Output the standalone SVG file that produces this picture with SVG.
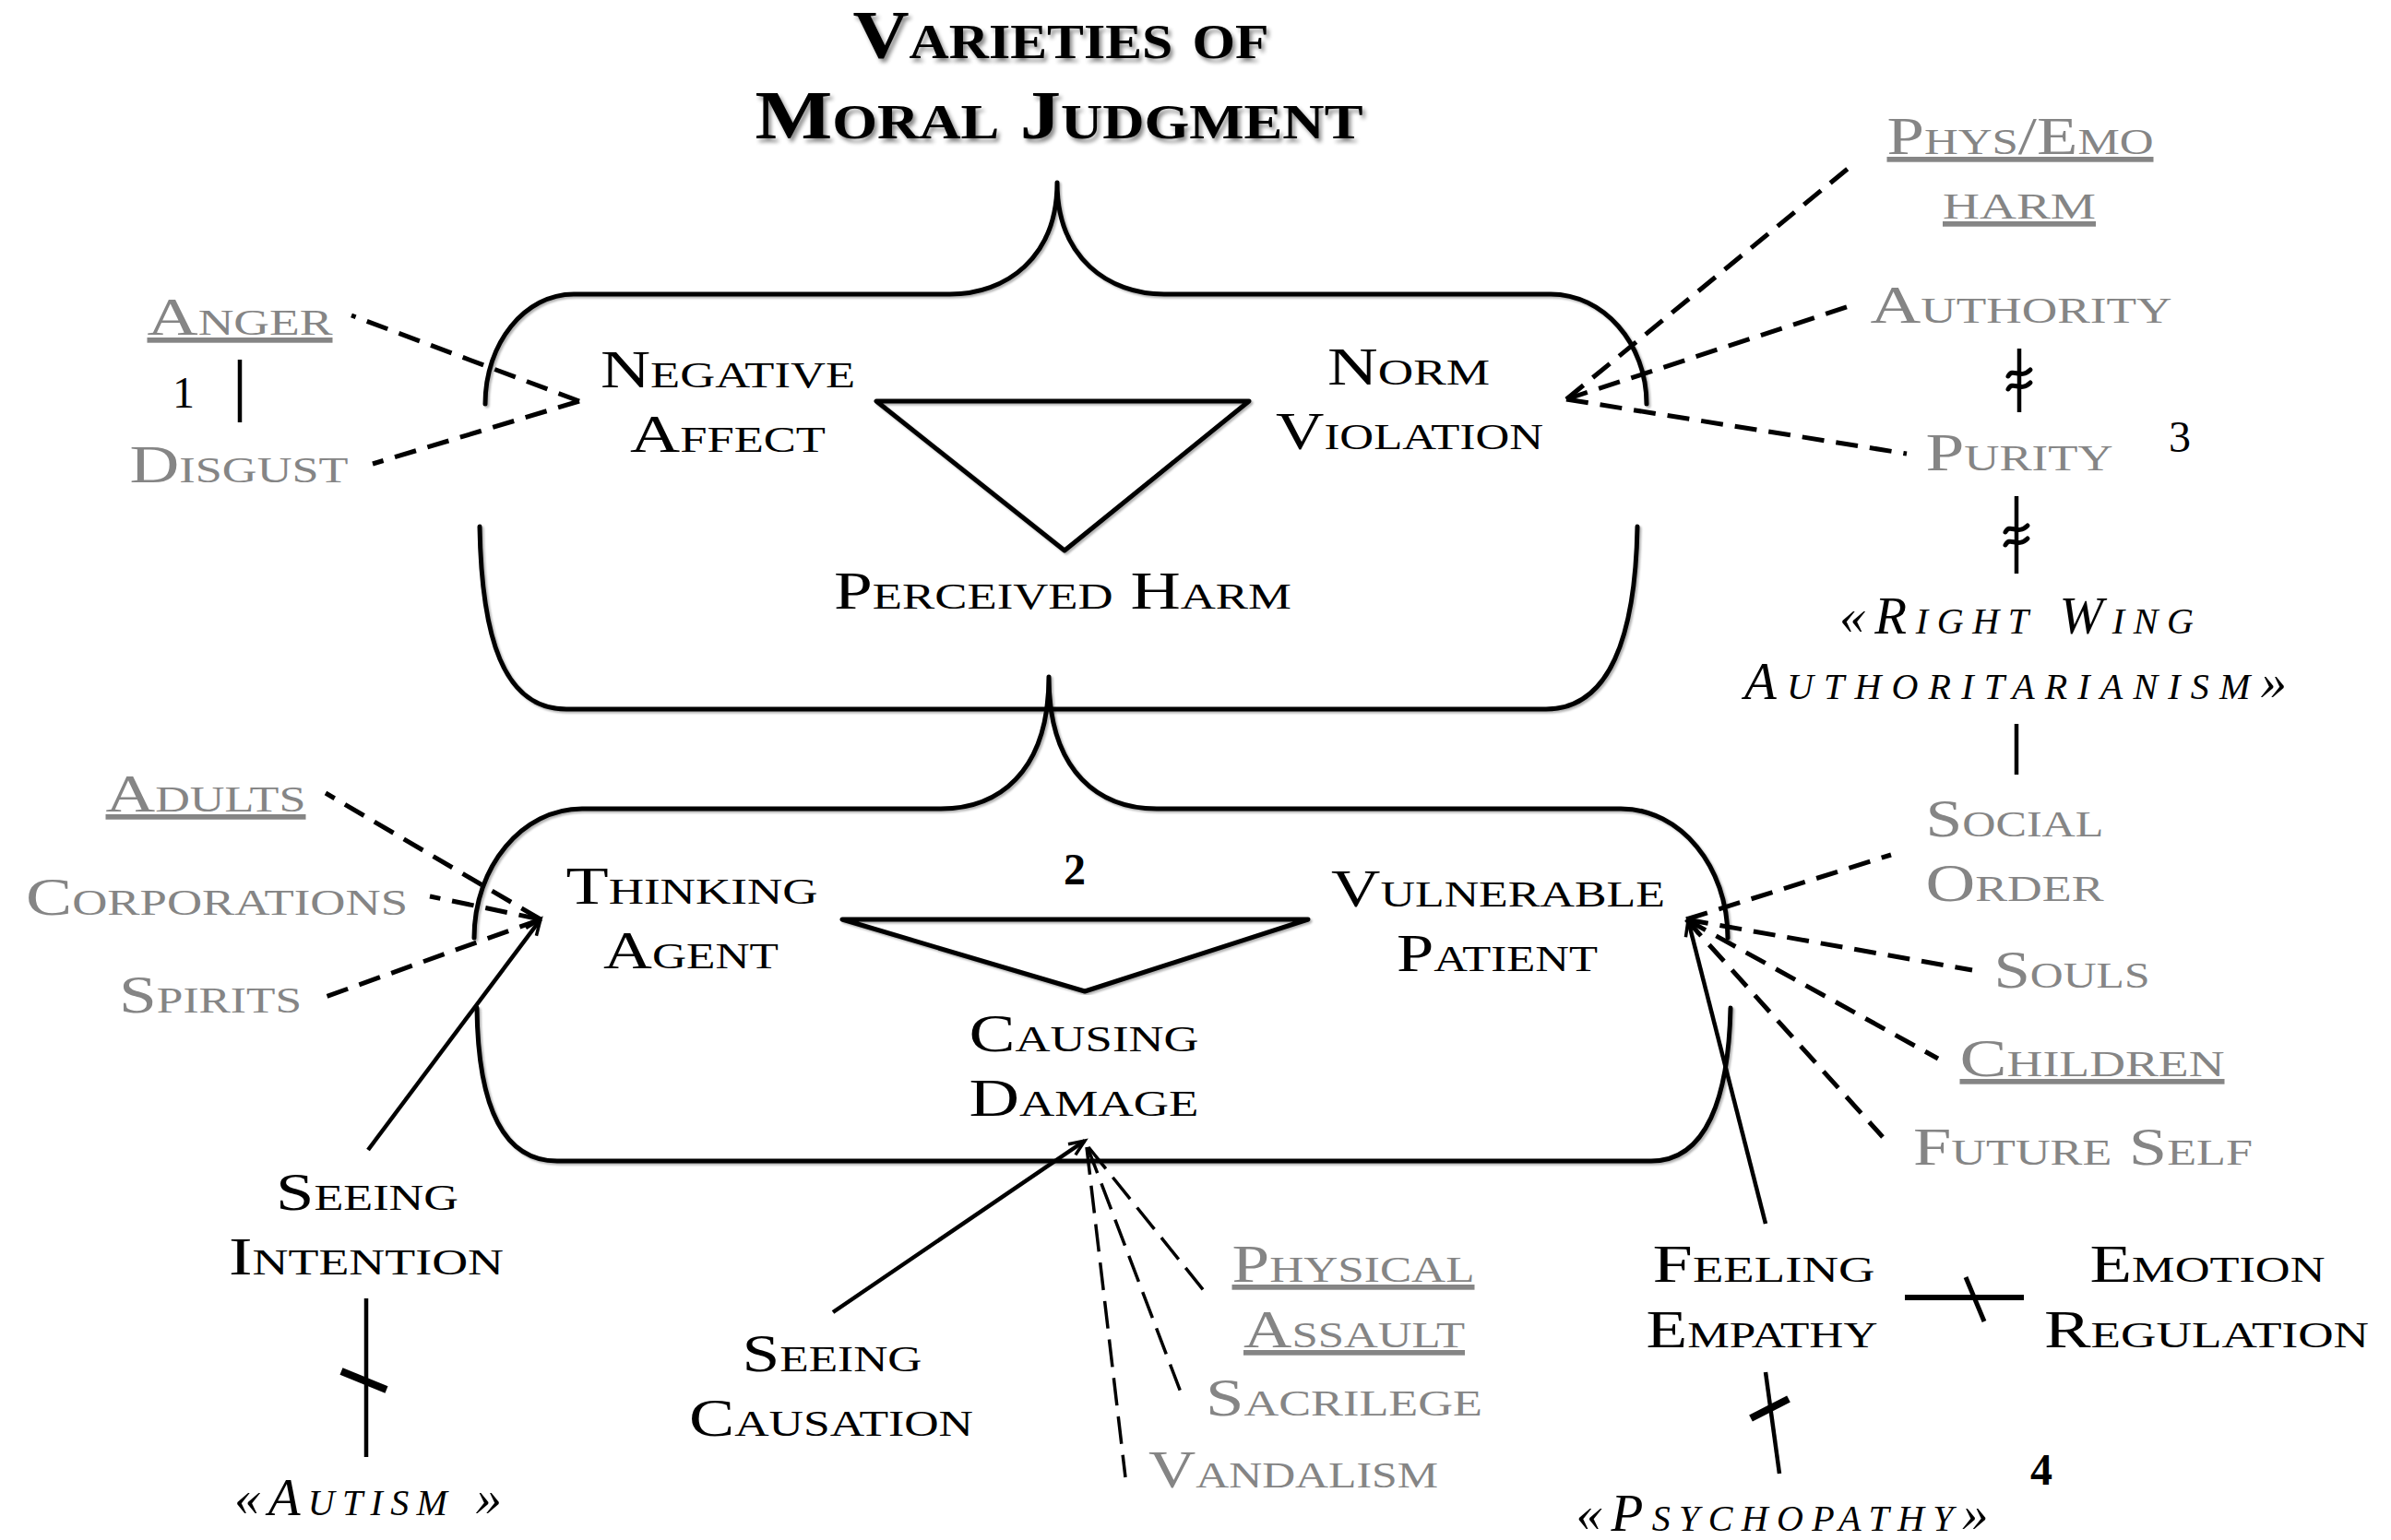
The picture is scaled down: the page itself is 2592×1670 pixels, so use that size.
<svg xmlns="http://www.w3.org/2000/svg" width="2592" height="1670" viewBox="0 0 2592 1670">
<style>
  text { font-family: "Liberation Serif", "Times New Roman", serif; font-variant: small-caps; text-anchor: middle; fill: #000; font-size: 57px; }
  .title { font-size: 75px; font-weight: bold; filter: url(#shadow); }
  .g { fill: #858585; }
  .u { text-decoration: underline; }
  .i { font-style: italic; }
  .num { font-size: 48px; font-variant: normal; }
  .b { font-weight: bold; }
  .box { fill: none; stroke: #000; stroke-width: 5; stroke-linecap: round; stroke-linejoin: round; filter: url(#lshadow); }
  .dash { fill: none; stroke: #000; stroke-width: 5; stroke-dasharray: 24 13; }
  .dash2 { fill: none; stroke: #000; stroke-width: 3.5; stroke-dasharray: 30 12; }
  .solid { fill: none; stroke: #000; stroke-width: 4.5; }
  .tick { fill: none; stroke: #000; stroke-width: 8; }
  .wave { fill: none; stroke: #000; stroke-width: 5; stroke-linecap: round; }
</style>
<defs>
  <filter id="shadow" x="-10%" y="-20%" width="120%" height="150%">
    <feDropShadow dx="3" dy="4" stdDeviation="2" flood-color="#000" flood-opacity="0.45"/>
  </filter>
  <filter id="lshadow" x="-5%" y="-5%" width="110%" height="110%">
    <feDropShadow dx="2" dy="2" stdDeviation="1" flood-color="#000" flood-opacity="0.3"/>
  </filter>
  <marker id="arr" markerUnits="userSpaceOnUse" markerWidth="26" markerHeight="20" refX="19" refY="9" orient="auto">
    <path d="M2,2 L19,9 L2,16" fill="none" stroke="#000" stroke-width="3.5"/>
  </marker>
</defs>

<g id="title">
  <text class="title" x="1150" y="63" textLength="451" lengthAdjust="spacingAndGlyphs">Varieties of</text>
  <text class="title" x="1148" y="150" textLength="659" lengthAdjust="spacingAndGlyphs">Moral Judgment</text>
</g>

<g id="shapes">
  <path class="box" d="M526,438 C526,372 569,319 622,319 L1030,319 C1090,319 1146,280 1146,198 C1146,280 1202,319 1262,319 L1681,319 C1738,319 1785,372 1785,438"/>
  <path class="box" d="M520,571 C522,690 545,769 614,769 L1676,769 C1745,769 1773,690 1775,571"/>
  <path class="box" d="M514,1017 C514,940 566,877 631,877 L1020,877 C1080,877 1137,840 1137,734 C1137,840 1194,877 1254,877 L1757,877 C1822,877 1873,940 1873,1017"/>
  <path class="box" d="M517,1093 C518,1190 540,1259 604,1259 L1790,1259 C1850,1259 1874,1190 1876,1093"/>
  <path class="box" d="M950,435 L1354,435 L1154,597 Z"/>
  <path class="box" d="M913,997 L1418,997 L1176,1075 Z"/>
</g>

<g id="connectors">
  <path class="dash" d="M628,435 L381,342"/>
  <path class="dash" d="M628,435 L404,503"/>
  <path class="solid" d="M260,390 L260,458"/>
  <path class="dash" d="M1698,433 L2003,183"/>
  <path class="dash" d="M1698,433 L2005,332"/>
  <path class="dash" d="M1698,433 L2067,492"/>
  <path class="solid" d="M2189,378 L2189,447"/>
  <path class="wave" d="M2177,408 C2182,398 2190,412 2201,401"/>
  <path class="wave" d="M2177,422 C2182,412 2190,426 2201,415"/>
  <path class="solid" d="M2186,538 L2186,622"/>
  <path class="wave" d="M2174,577 C2179,567 2187,581 2198,570"/>
  <path class="wave" d="M2174,591 C2179,581 2187,595 2198,584"/>
  <path class="solid" d="M2186,785 L2186,840"/>
  <path class="dash" d="M586,997 L353,860"/>
  <path class="dash" d="M586,997 L466,972"/>
  <path class="dash" d="M586,997 L350,1082"/>
  <path class="solid" d="M399,1247 L586,997" marker-end="url(#arr)"/>
  <path class="dash" d="M1828,997 L2050,927"/>
  <path class="dash" d="M1828,997 L2138,1052"/>
  <path class="dash" d="M1828,997 L2101,1148"/>
  <path class="dash" d="M1828,997 L2041,1233"/>
  <path class="solid" d="M1914,1327 L1830,998" marker-end="url(#arr)"/>
  <path class="solid" d="M903,1423 L1176,1237" marker-end="url(#arr)"/>
  <path class="dash2" d="M1180,1244 L1311,1407"/>
  <path class="dash2" d="M1179,1244 L1282,1515"/>
  <path class="dash2" d="M1178,1244 L1220,1602"/>
  <path class="solid" d="M2065,1407 L2194,1407" style="stroke-width:6"/>
  <path class="solid" d="M2131,1385 L2151,1433" style="stroke-width:5"/>
  <path class="solid" d="M1914,1488 L1929,1598"/>
  <path class="tick" d="M1898,1538 L1939,1517"/>
  <path class="solid" d="M397,1408 L397,1580"/>
  <path class="tick" d="M370,1487 L419,1507"/>
</g>

<g id="negative-affect"><text x="789" y="420" textLength="276" lengthAdjust="spacingAndGlyphs">Negative</text><text x="789" y="490" textLength="212" lengthAdjust="spacingAndGlyphs">Affect</text></g>
<g id="norm-violation"><text x="1527" y="417" textLength="176" lengthAdjust="spacingAndGlyphs">Norm</text><text x="1528" y="487" textLength="290" lengthAdjust="spacingAndGlyphs">Violation</text></g>
<g id="perceived-harm"><text x="1152" y="660" textLength="496" lengthAdjust="spacingAndGlyphs">Perceived Harm</text></g>
<g id="anger"><text class="g u" x="260" y="363" textLength="201" lengthAdjust="spacingAndGlyphs">Anger</text></g>
<g id="disgust"><text class="g" x="259" y="523" textLength="237" lengthAdjust="spacingAndGlyphs">Disgust</text></g>
<g id="label-1"><text class="num" x="199" y="442">1</text></g>
<g id="phys-emo-harm"><text class="g u" x="2190" y="167" textLength="289" lengthAdjust="spacingAndGlyphs">Phys/Emo</text><text class="g u" x="2189" y="237" textLength="166" lengthAdjust="spacingAndGlyphs">harm</text></g>
<g id="authority"><text class="g" x="2191" y="350" textLength="327" lengthAdjust="spacingAndGlyphs">Authority</text></g>
<g id="purity"><text class="g" x="2189" y="510" textLength="203" lengthAdjust="spacingAndGlyphs">Purity</text></g>
<g id="label-3"><text class="num" x="2363" y="490">3</text></g>
<g id="rwa"><text class="i" x="2186" y="687" textLength="384">«Right Wing</text><text class="i" x="2185" y="758" textLength="588">Authoritarianism»</text></g>
<g id="thinking-agent"><text x="750" y="980" textLength="273" lengthAdjust="spacingAndGlyphs">Thinking</text><text x="749" y="1050" textLength="190" lengthAdjust="spacingAndGlyphs">Agent</text></g>
<g id="vulnerable-patient"><text x="1624" y="983" textLength="362" lengthAdjust="spacingAndGlyphs">Vulnerable</text><text x="1623" y="1053" textLength="218" lengthAdjust="spacingAndGlyphs">Patient</text></g>
<g id="label-2"><text class="num b" x="1165" y="959">2</text></g>
<g id="causing-damage"><text x="1175" y="1140" textLength="249" lengthAdjust="spacingAndGlyphs">Causing</text><text x="1175" y="1210" textLength="249" lengthAdjust="spacingAndGlyphs">Damage</text></g>
<g id="adults"><text class="g u" x="223" y="880" textLength="217" lengthAdjust="spacingAndGlyphs">Adults</text></g>
<g id="corporations"><text class="g" x="235" y="992" textLength="414" lengthAdjust="spacingAndGlyphs">Corporations</text></g>
<g id="spirits"><text class="g" x="228" y="1098" textLength="198" lengthAdjust="spacingAndGlyphs">Spirits</text></g>
<g id="social-order"><text class="g" x="2184" y="907" textLength="193" lengthAdjust="spacingAndGlyphs">Social</text><text class="g" x="2184" y="977" textLength="193" lengthAdjust="spacingAndGlyphs">Order</text></g>
<g id="souls"><text class="g" x="2246" y="1071" textLength="169" lengthAdjust="spacingAndGlyphs">Souls</text></g>
<g id="children"><text class="g u" x="2268" y="1167" textLength="287" lengthAdjust="spacingAndGlyphs">Children</text></g>
<g id="future-self"><text class="g" x="2258" y="1263" textLength="368" lengthAdjust="spacingAndGlyphs">Future Self</text></g>
<g id="seeing-intention"><text x="398" y="1312" textLength="198" lengthAdjust="spacingAndGlyphs">Seeing</text><text x="397" y="1382" textLength="298" lengthAdjust="spacingAndGlyphs">Intention</text></g>
<g id="autism"><text class="i" x="399" y="1643" textLength="290">«Autism »</text></g>
<g id="seeing-causation"><text x="902" y="1487" textLength="195" lengthAdjust="spacingAndGlyphs">Seeing</text><text x="901" y="1557" textLength="308" lengthAdjust="spacingAndGlyphs">Causation</text></g>
<g id="physical-assault"><text class="g u" x="1467" y="1390" textLength="263" lengthAdjust="spacingAndGlyphs">Physical</text><text class="g u" x="1468" y="1461" textLength="240" lengthAdjust="spacingAndGlyphs">Assault</text></g>
<g id="sacrilege"><text class="g" x="1457" y="1535" textLength="300" lengthAdjust="spacingAndGlyphs">Sacrilege</text></g>
<g id="vandalism"><text class="g" x="1402" y="1613" textLength="314" lengthAdjust="spacingAndGlyphs">Vandalism</text></g>
<g id="feeling-empathy"><text x="1912" y="1390" textLength="241" lengthAdjust="spacingAndGlyphs">Feeling</text><text x="1910" y="1461" textLength="251" lengthAdjust="spacingAndGlyphs">Empathy</text></g>
<g id="emotion-regulation"><text x="2393" y="1390" textLength="255" lengthAdjust="spacingAndGlyphs">Emotion</text><text x="2392" y="1461" textLength="352" lengthAdjust="spacingAndGlyphs">Regulation</text></g>
<g id="psychopathy"><text class="i" x="1932" y="1660" textLength="447">«Psychopathy»</text></g>
<g id="label-4"><text class="num b" x="2213" y="1610">4</text></g>
</svg>
